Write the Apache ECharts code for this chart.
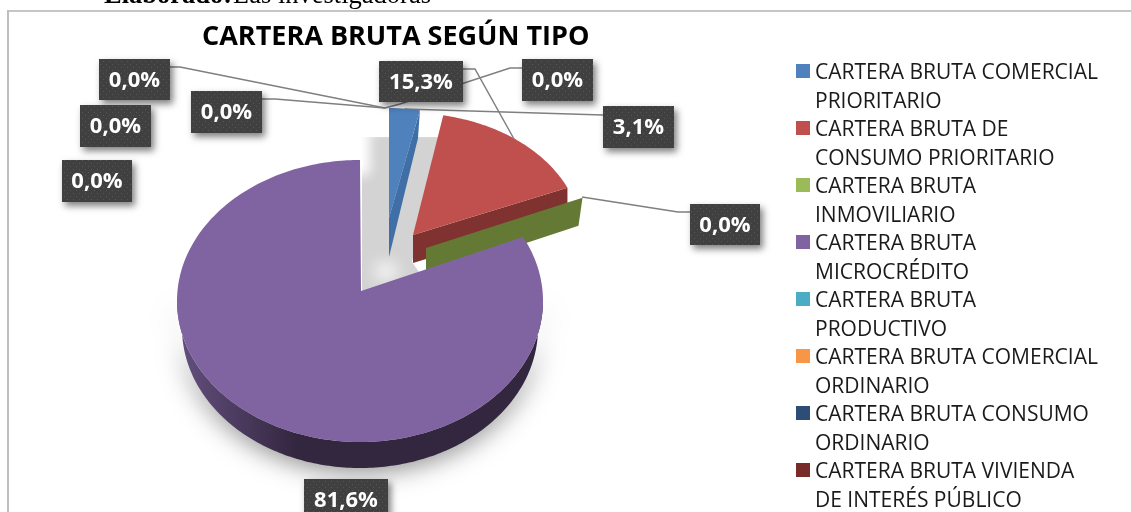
<!DOCTYPE html>
<html>
<head>
<meta charset="utf-8">
<style>html,body{margin:0;padding:0;background:#fff}#c{width:1131px;height:512px}</style>
<script src="https://cdn.jsdelivr.net/npm/echarts@6/dist/echarts.min.js"></script>
</head>
<body>
<div id="c"></div>
<script>
// ---- data ----
const chartTitle = 'CARTERA BRUTA SEGÚN TIPO';
const categories = [
  'CARTERA BRUTA COMERCIAL\nPRIORITARIO',
  'CARTERA BRUTA DE\nCONSUMO PRIORITARIO',
  'CARTERA BRUTA\nINMOVILIARIO',
  'CARTERA BRUTA\nMICROCRÉDITO',
  'CARTERA BRUTA\nPRODUCTIVO',
  'CARTERA BRUTA COMERCIAL\nORDINARIO',
  'CARTERA BRUTA CONSUMO\nORDINARIO',
  'CARTERA BRUTA VIVIENDA\nDE INTERÉS PÚBLICO'
];
// the ninth slice's legend entry falls outside the visible picture
const values = [3.1, 15.3, 0.0, 81.6, 0.0, 0.0, 0.0, 0.0, 0.0];
const colors = ['#4F81BD', '#C0504D', '#9BBB59', '#8064A2', '#4BACC6', '#F79646', '#2C4D75', '#772C2A'];

// ---- layout (not data) ----
const sliceFrame = [
  {ax: 389, ay: 218, cx: 389, cy: 229, rx: 160, ry: 121, depth: 28, apexDepth: 39, wallDx: -2, wall: '#3F6FA6', skew: 0},
  {ax: 413, ay: 235, cx: 410, cy: 238, rx: 172, ry: 125, depth: 28, apexDepth: 28, wallDx: 0, wall: '#7F3230', skew: 0},
  {ax: 426, ay: 248, cx: 426, cy: 248, rx: 171, ry: 125, depth: 28, apexDepth: 28, wallDx: -4, wall: '#647A34', skew: 0},
  {ax: 361, ay: 291, cx: 360, cy: 301, rx: 183, ry: 141, depth: 27, apexDepth: 27, wallDx: 0, wall: null, skew: -3.2}
];
const labelBoxes = [
  {x: 603, y: 106, w: 71, h: 42, line: [[603, 115], [405, 109]]},
  {x: 379, y: 61, w: 84, h: 41, line: [[463, 69], [475, 69], [514, 139]]},
  {x: 690, y: 204, w: 70, h: 41, line: [[690, 212], [678, 212], [582, 197]]},
  {x: 304, y: 479, w: 84, h: 42, line: null},
  {x: 522, y: 59, w: 71, h: 42, line: [[522, 68], [510, 68], [400, 104], [385, 108]]},
  {x: 99, y: 59, w: 71, h: 41, line: [[170, 67], [180, 67], [385, 108]]},
  {x: 191, y: 91, w: 71, h: 42, line: [[262, 99], [275, 99], [385, 108]]},
  {x: 80, y: 105, w: 71, h: 42, line: null},
  {x: 62, y: 160, w: 70, h: 42, line: null}
];
const FONT = '"Open Sans","Noto Sans",sans-serif';

const pct2deg = 3.6;
function sumBefore(i) { let s = 0; for (let k = 0; k < i; k++) s += values[k]; return s; }
function pt(f, deg, dy) {
  const t = deg * Math.PI / 180;
  return [f.cx + f.rx * Math.sin(t), f.cy - f.ry * Math.cos(t) + (dy || 0)];
}
function arc(f, d0, d1) {
  const out = [], n = Math.max(2, Math.ceil(Math.abs(d1 - d0)));
  for (let i = 0; i <= n; i++) out.push(pt(f, d0 + (d1 - d0) * i / n));
  return out;
}
function renderSlice(idx) {
  return function () {
    const f = sliceFrame[idx];
    if (!f) return {type: 'group', children: []};
    const d0 = sumBefore(idx) * pct2deg + f.skew, d1 = (sumBefore(idx) + values[idx]) * pct2deg;
    const kids = [];
    if (f.wall) {
      const e = pt(f, d1);
      kids.push({type: 'polygon', shape: {points: [[f.ax, f.ay], e, [e[0] + f.wallDx, e[1] + f.depth], [f.ax, f.ay + f.apexDepth]]},
        style: {fill: f.wall}});
    } else {
      // outer rim of the big slice, seen from 3 o'clock round to 9 o'clock
      const lo = {cx: f.cx, cy: f.cy + f.depth, rx: f.rx - 5, ry: f.ry - 1};
      const rimTop = arc(f, 90, 270), rimLow = arc(lo, 270, 90);
      kids.push({type: 'polygon', shape: {points: rimTop.concat(rimLow)},
        style: {
          fill: new echarts.graphic.LinearGradient(0, 0, 1, 0, [
            {offset: 0, color: '#64507F'}, {offset: 0.33, color: '#33263F'}, {offset: 1, color: '#33263F'}
          ]),
          shadowBlur: 26, shadowColor: 'rgba(0,0,0,0.5)', shadowOffsetY: 3
        }});
    }
    if (values[idx] > 0) {
      kids.push({type: 'polygon', shape: {points: [[f.ax, f.ay]].concat(arc(f, d0, d1))}, style: {fill: colors[idx]}});
    }
    return {type: 'group', children: kids};
  };
}

function dotPattern() {
  const c = document.createElement('canvas');
  c.width = 6; c.height = 6;
  const g = c.getContext('2d');
  g.fillStyle = '#404040'; g.fillRect(0, 0, 6, 6);
  g.fillStyle = '#565656'; g.fillRect(1, 1, 1, 1); g.fillRect(4, 4, 1, 1);
  return c;
}
const pattern = {image: dotPattern(), repeat: 'repeat'};

const OFF = 3000;
function softBlock(x, y, w, h, blur, color) {
  // the block itself sits off canvas: only its blurred shadow shows
  return {type: 'rect', shape: {x: x - OFF, y: y, width: w, height: h},
    style: {fill: color, shadowBlur: blur, shadowColor: color, shadowOffsetX: OFF}};
}
function renderBackdrop() {
  return {type: 'group', children: [
    {type: 'polygon', shape: {points: [[362, 137], [441, 137], [412, 262], [426, 282], [362, 296]]}, style: {fill: '#D3D3D3'}},
    softBlock(340, 125, 30, 50, 12, '#fff'),
    softBlock(340, 110, 110, 24, 6, '#fff'),
    softBlock(376, 264, 20, 14, 16, '#fff')
  ]};
}
function renderLabels() {
  const kids = [];
  labelBoxes.forEach(function (b) {
    if (b.line) kids.push({type: 'polyline', shape: {points: b.line}, style: {stroke: '#7F7F7F', lineWidth: 1.5, fill: null}});
  });
  labelBoxes.forEach(function (b, i) {
    kids.push({type: 'rect', shape: {x: b.x, y: b.y, width: b.w, height: b.h},
      style: {fill: pattern, shadowBlur: 7, shadowOffsetX: 3, shadowOffsetY: 4, shadowColor: 'rgba(0,0,0,0.5)'}});
    kids.push({type: 'text', x: b.x + b.w / 2, y: b.y + b.h / 2 + 1,
      style: {text: values[i].toFixed(1).replace('.', ',') + '%', fill: '#fff', align: 'center', verticalAlign: 'middle',
        font: 'bold 22px ' + FONT}});
  });
  return {type: 'group', children: kids};
}

const series = [{type: 'custom', coordinateSystem: 'none', silent: true, z: 1, data: [0], renderItem: renderBackdrop}];
categories.forEach(function (name, i) {
  series.push({type: 'custom', name: name, coordinateSystem: 'none', silent: true, z: 2 + i,
    itemStyle: {color: colors[i]}, data: [values[i]], renderItem: renderSlice(i)});
});
series.push({type: 'custom', coordinateSystem: 'none', silent: true, z: 20, data: values, renderItem: function (p) {
  return p.dataIndex === 0 ? renderLabels() : {type: 'group', children: []};
}});

const chart = echarts.init(document.getElementById('c'), null, {renderer: 'canvas'});
chart.setOption({
  animation: false,
  backgroundColor: '#fff',
  title: {text: chartTitle, left: 202, top: 24, padding: 0,
    textStyle: {fontFamily: FONT, fontWeight: 'bold', fontSize: 27, color: '#000'}},
  legend: {
    type: 'plain', orient: 'vertical', left: 796, top: 59, height: 470, padding: 0, itemGap: 0,
    itemWidth: 14, itemHeight: 57, data: categories,
    icon: 'path://M0 5H14V19H0Z M0 0L0.01 0 M0 57L0.01 57',
    selectedMode: false,
    textStyle: {fontFamily: FONT, fontSize: 21, lineHeight: 28.5, color: '#1a1a1a'}
  },
  graphic: [
    {type: 'rect', left: 7, top: 10, shape: {width: 1124, height: 2}, style: {fill: '#C6C6C6'}, silent: true},
    {type: 'rect', left: 7, top: 10, shape: {width: 2, height: 502}, style: {fill: '#BEBEBE'}, silent: true},
    {type: 'text', left: 104, top: -17, style: {text: 'Elaborado:', fill: '#000', font: 'bold 26.5px "Liberation Serif"'}, silent: true},
    {type: 'text', left: 233, top: -17, style: {text: 'Las investigadoras', fill: '#000', font: '26.5px "Liberation Serif"'}, silent: true}
  ],
  series: series
});
</script>
</body>
</html>
